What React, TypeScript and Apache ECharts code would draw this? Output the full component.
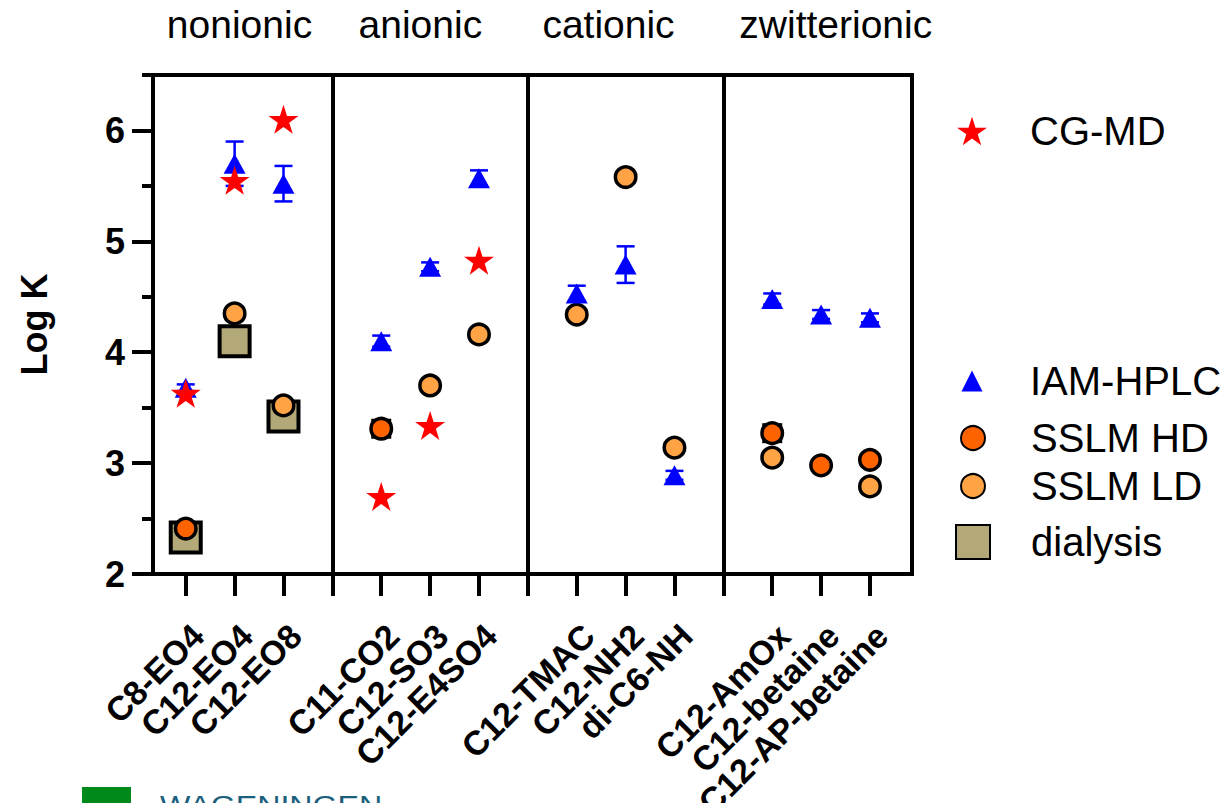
import React, { useEffect, useRef } from "react";
import * as echarts from "echarts";

// ---------- data ----------
const groups = ["nonionic", "anionic", "cationic", "zwitterionic"];
const groupLabelPos = [2.1, 5.8, 9.65, 14.3];
const categories = [
  "C8-EO4", "C12-EO4", "C12-EO8",
  "C11-CO2", "C12-SO3", "C12-E4SO4",
  "C12-TMAC", "C12-NH2", "di-C6-NH",
  "C12-AmOx", "C12-betaine", "C12-AP-betaine",
];
const cgmd = [3.63, 5.55, 6.1, 2.7, 3.34, 4.83, null, null, null, null, null, null];
const iamHplc = [3.68, 5.7, 5.52, 4.1, 4.77, 5.57, 4.53, 4.79, 2.89, 4.48, 4.34, 4.31];
const iamErr = [0.03, 0.2, 0.16, 0.05, 0.04, 0.07, 0.07, 0.165, 0.04, 0.05, 0.04, 0.04];
const sslmHD = [2.41, null, null, 3.31, null, null, null, null, null, 3.27, 2.98, 3.03];
const sslmLD = [null, 4.35, 3.52, null, 3.7, 4.16, 4.34, 5.58, 3.14, 3.05, null, 2.79];
const dialysis = [2.33, 4.1, 3.42, null, null, null, null, null, null, null, null, null];
const hiddenMarker = [null, null, null, 3.31, null, null, null, null, null, 3.27, null, null];
const yTicks = [2, 3, 4, 5, 6];
const yMinorTicks = [2.5, 3.5, 4.5, 5.5, 6.5];

// ---------- helpers ----------
const perGroup = 3;
const xPos = categories.map((_, i) => Math.floor(i / perGroup) * (perGroup + 1) + (i % perGroup) + 1);
const dividers = groups.slice(1).map((_, g) => (g + 1) * (perGroup + 1));
const allTicks = Array.from({ length: xPos[xPos.length - 1] }, (_, i) => i + 1);
const toPts = (arr: (number | null)[]) =>
  arr.map((v, i) => (v == null ? null : [xPos[i], v])).filter((p) => p != null);

const FONT = "'Liberation Sans', Arial, Helvetica, sans-serif";
const STAR =
  "path://M50,0 L61.23,34.55 L97.55,34.55 L68.16,55.9 L79.39,90.45 L50,69.1 L20.61,90.45 L31.84,55.9 L2.45,34.55 L38.77,34.55 Z";
const TRI = "path://M5,0 L10,10 L0,10 Z";
const SQR = "path://M0,0 L10,0 L10,10 L0,10 Z";

const X_MIN = 0.33;
const X_MAX = 15.86;

export default function App() {
  const ref = useRef<HTMLDivElement>(null);
  useEffect(() => {
    if (!ref.current) return;
    const chart = echarts.init(ref.current, null, { renderer: "svg" });
    const black = "#000";

    const ICON_X = 972;
    const TEXT_X = 1030;
    const legendItem = (name: string, centerY: number, h: number) => ({
      data: [name],
      orient: "vertical",
      left: ICON_X - h / 2,
      top: centerY - 20,
      padding: 0,
      itemWidth: h,
      itemHeight: h,
      selectedMode: false,
      textStyle: {
        fontSize: 40,
        color: black,
        fontFamily: FONT,
        padding: [0, 0, 0, TEXT_X - (ICON_X + h / 2) - 5],
      },
    });

    const option: any = {
      animation: false,
      backgroundColor: "#fff",
      textStyle: { fontFamily: FONT },
      grid: {
        left: 153,
        top: 75,
        width: 759,
        height: 499,
        show: true,
        borderColor: black,
        borderWidth: 4,
        backgroundColor: "transparent",
        containLabel: false,
        outerBoundsMode: "none",
      },
      legend: [
        legendItem("CG-MD", 131, 30),
        legendItem("IAM-HPLC", 381, 21),
        legendItem("SSLM HD", 438, 24),
        legendItem("SSLM LD", 486, 24),
        legendItem("dialysis", 542, 34),
      ],
      xAxis: [
        {
          type: "value",
          position: "bottom",
          min: X_MIN,
          max: X_MAX,
          axisLine: { show: true, onZero: false, lineStyle: { color: black, width: 4 } },
          axisTick: { show: true, customValues: allTicks, length: 22, lineStyle: { color: black, width: 4 } },
          axisLabel: {
            customValues: xPos,
            formatter: (v: number) => categories[xPos.indexOf(Math.round(v))] ?? "",
            rotate: 45,
            align: "right",
            verticalAlign: "top",
            margin: 44,
            fontSize: 34,
            fontWeight: "bold",
            color: black,
            fontFamily: FONT,
          },
          splitLine: { show: false },
        },
        {
          type: "value",
          position: "top",
          min: X_MIN,
          max: X_MAX,
          axisLine: { show: false },
          axisTick: { show: false },
          splitLine: { show: false },
          axisLabel: {
            customValues: groupLabelPos,
            formatter: (v: number) => groups[groupLabelPos.indexOf(v)] ?? "",
            fontSize: 39,
            color: black,
            margin: 31,
            fontFamily: FONT,
          },
        },
      ],
      yAxis: [
        {
          type: "value",
          position: "left",
          min: 2,
          max: 6.5,
          name: "Log K",
          nameLocation: "middle",
          nameGap: 101,
          nameTextStyle: { fontSize: 36, fontWeight: "bold", color: black, fontFamily: FONT },
          axisLine: { show: true, lineStyle: { color: black, width: 4 } },
          axisTick: { show: true, customValues: yTicks, length: 21, lineStyle: { color: black, width: 4 } },
          axisLabel: {
            customValues: yTicks,
            fontSize: 36,
            fontWeight: "bold",
            color: black,
            margin: 28,
            fontFamily: FONT,
          },
          splitLine: { show: false },
        },
        {
          type: "value",
          position: "left",
          min: 2,
          max: 6.5,
          axisLine: { show: false },
          axisTick: { show: true, customValues: yMinorTicks, length: 11, lineStyle: { color: black, width: 4 } },
          axisLabel: { show: false },
          splitLine: { show: false },
        },
      ],
      series: [
        {
          name: "dialysis",
          type: "scatter",
          symbol: SQR,
          symbolSize: 30,
          data: toPts(dialysis),
          itemStyle: { color: "#b3a978", borderColor: black, borderWidth: 4, opacity: 1 },
          emphasis: { disabled: true },
          markLine: {
            silent: true,
            symbol: "none",
            label: { show: false },
            lineStyle: { color: black, width: 4, type: "solid", opacity: 1 },
            data: dividers.map((d) => ({ xAxis: d })),
          },
        },
        {
          name: "marker",
          type: "scatter",
          symbol: "rect",
          symbolSize: 20,
          data: toPts(hiddenMarker),
          itemStyle: { color: black, opacity: 1 },
          emphasis: { disabled: true },
        },
        {
          name: "SSLM HD",
          type: "scatter",
          symbol: "circle",
          symbolSize: 20.5,
          data: toPts(sslmHD),
          itemStyle: { color: "#ff6300", borderColor: black, borderWidth: 3.5, opacity: 1 },
          emphasis: { disabled: true },
        },
        {
          name: "SSLM LD",
          type: "scatter",
          symbol: "circle",
          symbolSize: 20.5,
          data: toPts(sslmLD),
          itemStyle: { color: "#ffa345", borderColor: black, borderWidth: 3.5, opacity: 1 },
          emphasis: { disabled: true },
        },
        {
          name: "IAM-HPLC error",
          type: "custom",
          data: iamHplc.map((v, i) => [xPos[i], v - iamErr[i], v + iamErr[i]]),
          encode: { x: 0, y: [1, 2] },
          renderItem: (_p: any, api: any) => {
            const x = api.value(0);
            const lo = api.coord([x, api.value(1)]);
            const hi = api.coord([x, api.value(2)]);
            const hw = 9;
            const st = { stroke: "#0000ff", lineWidth: 2.5 };
            return {
              type: "group",
              children: [
                { type: "line", shape: { x1: hi[0], y1: hi[1], x2: lo[0], y2: lo[1] }, style: st },
                { type: "line", shape: { x1: hi[0] - hw, y1: hi[1], x2: hi[0] + hw, y2: hi[1] }, style: st },
                { type: "line", shape: { x1: lo[0] - hw, y1: lo[1], x2: lo[0] + hw, y2: lo[1] }, style: st },
              ],
            };
          },
          silent: true,
        },
        {
          name: "IAM-HPLC",
          type: "scatter",
          symbol: TRI,
          symbolSize: [22, 20],
          data: toPts(iamHplc),
          itemStyle: { color: "#0000ff", opacity: 1 },
          emphasis: { disabled: true },
        },
        {
          name: "CG-MD",
          type: "scatter",
          symbol: STAR,
          symbolSize: [30, 29],
          data: toPts(cgmd),
          itemStyle: { color: "#ff0000", opacity: 1 },
          emphasis: { disabled: true },
        },
      ],
      graphic: [
        { type: "rect", left: 82, top: 787, shape: { width: 49, height: 20 }, style: { fill: "#00891b" } },
        {
          type: "text",
          left: 160,
          top: 791,
          scaleX: 1.15,
          style: { text: "WAGENINGEN", fontSize: 28, fill: "#1b5f7d", fontFamily: FONT },
        },
      ],
    };
    chart.setOption(option);
    return () => chart.dispose();
  }, []);

  return (
    <div
      ref={ref}
      style={{ position: "fixed", left: 0, top: 0, width: 1228, height: 803 }}
    />
  );
}
